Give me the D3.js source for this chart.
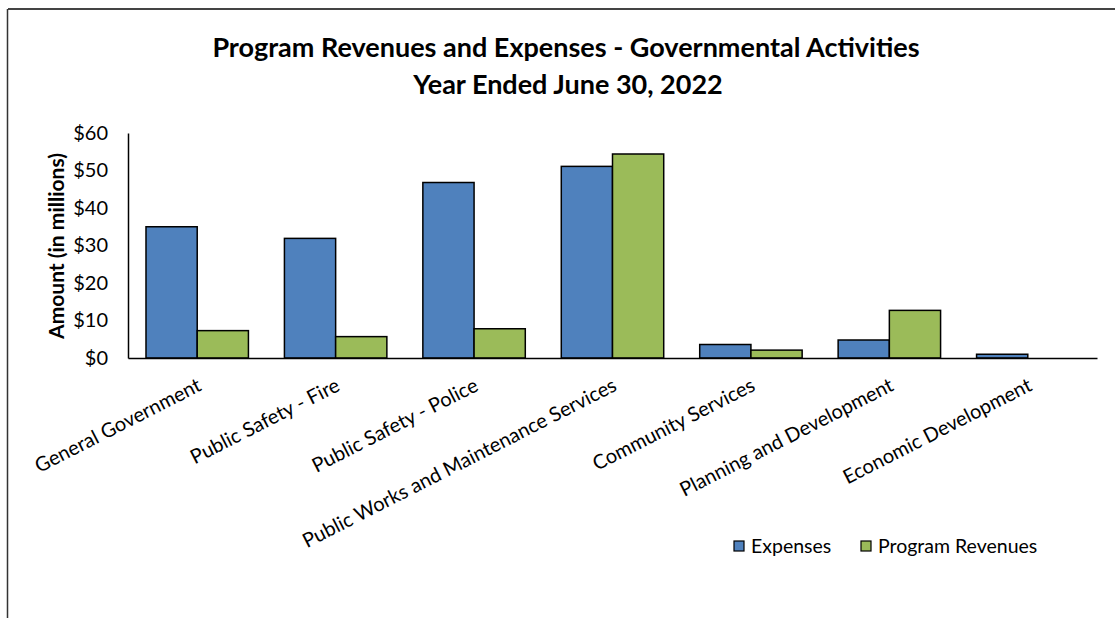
<!DOCTYPE html>
<html>
<head>
<meta charset="utf-8">
<script src="https://cdn.jsdelivr.net/npm/d3@7"></script>
<style>
  body { margin: 0; background: #fff; }
  svg { font-family: Lato, "Open Sans", sans-serif; }
</style>
</head>
<body>
<svg id="chart" width="1115" height="618"></svg>
<script>
// chart values, in millions of dollars
var categories = ["General Government", "Public Safety - Fire", "Public Safety - Police",
    "Public Works and Maintenance Services", "Community Services",
    "Planning and Development", "Economic Development"];
var expenses = [35.0, 31.9, 46.8, 51.1, 3.6, 4.8, 1.0];
var programRevenues = [7.3, 5.7, 7.8, 54.4, 2.1, 12.7, 0];
var seriesNames = ["Expenses", "Program Revenues"];
var yTicks = [0, 10, 20, 30, 40, 50, 60];

var colors = { "Expenses": "#4F81BD", "Program Revenues": "#9BBB59" };

var svg = d3.select("#chart");
var plotLeft = 128, plotRight = 1097, plotTop = 133, plotBottom = 358;

// chart frame (top and left edges only are visible)
svg.append("line").attr("x1", 8).attr("x2", 1115).attr("y1", 9).attr("y2", 9)
   .attr("stroke", "#444").attr("stroke-width", 2);
svg.append("line").attr("x1", 7.5).attr("x2", 7.5).attr("y1", 9).attr("y2", 618)
   .attr("stroke", "#333").attr("stroke-width", 1.5);

// title
svg.append("text").attr("x", 566).attr("y", 57).attr("text-anchor", "middle")
   .attr("font-size", "27px").attr("font-weight", "bold")
   .text("Program Revenues and Expenses - Governmental Activities");
svg.append("text").attr("x", 568).attr("y", 94).attr("text-anchor", "middle")
   .attr("font-size", "27px").attr("font-weight", "bold")
   .text("Year Ended June 30, 2022");

var x0 = d3.scaleBand().domain(categories).range([plotLeft, plotRight])
    .paddingInner(0.26).paddingOuter(0.13);
var x1 = d3.scaleBand().domain(seriesNames).range([0, x0.bandwidth()]);
var y = d3.scaleLinear().domain([0, 60]).range([plotBottom, plotTop]);

var rows = categories.map(function(c, i) {
    return { cat: c, values: [
        { name: "Expenses", value: expenses[i] },
        { name: "Program Revenues", value: programRevenues[i] }
    ] };
});

// bars
var group = svg.selectAll(".group").data(rows).enter().append("g")
    .attr("class", "group")
    .attr("transform", function(d) { return "translate(" + x0(d.cat) + ",0)"; });
group.selectAll("rect")
    .data(function(d) { return d.values.filter(function(v) { return v.value > 0; }); })
    .enter().append("rect")
    .attr("x", function(d) { return x1(d.name); })
    .attr("y", function(d) { return y(d.value); })
    .attr("width", x1.bandwidth())
    .attr("height", function(d) { return y(0) - y(d.value); })
    .attr("fill", function(d) { return colors[d.name]; })
    .attr("stroke", "#000").attr("stroke-width", 1.5);

// y axis
var yAxis = svg.append("g").attr("transform", "translate(" + plotLeft + ",0)")
    .call(d3.axisLeft(y).tickValues(yTicks).tickSize(0).tickPadding(20)
        .tickFormat(function(d) { return "$" + d; }));
yAxis.select(".domain").attr("stroke", "#000").attr("stroke-width", 1.5);
yAxis.selectAll("text").attr("font-size", "20px").attr("fill", "#000")
    .attr("font-family", "Lato, sans-serif");

// x axis
var xAxis = svg.append("g").attr("transform", "translate(0," + plotBottom + ")")
    .call(d3.axisBottom(x0).tickSize(0).tickFormat(""));
xAxis.select(".domain").attr("stroke", "#000").attr("stroke-width", 1.5);

// rotated category labels
svg.selectAll(".catLabel").data(categories).enter().append("text")
    .attr("class", "catLabel")
    .attr("transform", function(d) {
        return "translate(" + (x0(d) + x0.bandwidth() / 2 - 1) + ",377) rotate(-27)";
    })
    .attr("text-anchor", "end").attr("dy", "0.72em")
    .attr("font-size", "20px")
    .text(function(d) { return d; });

// y axis title
svg.append("text")
   .attr("transform", "translate(64,246) rotate(-90)")
   .attr("text-anchor", "middle").attr("font-size", "21px").attr("font-weight", "bold")
   .text("Amount (in millions)");

// legend
var legendX = [734, 861];
var legend = svg.selectAll(".legend").data(seriesNames).enter().append("g")
    .attr("class", "legend")
    .attr("transform", function(d, i) { return "translate(" + legendX[i] + ",541)"; });
legend.append("rect").attr("width", 10).attr("height", 10)
    .attr("fill", function(d) { return colors[d]; })
    .attr("stroke", "#000").attr("stroke-width", 1.2);
legend.append("text").attr("x", 17).attr("y", 12).attr("font-size", "19.5px")
    .text(function(d) { return d; });
</script>
</body>
</html>
